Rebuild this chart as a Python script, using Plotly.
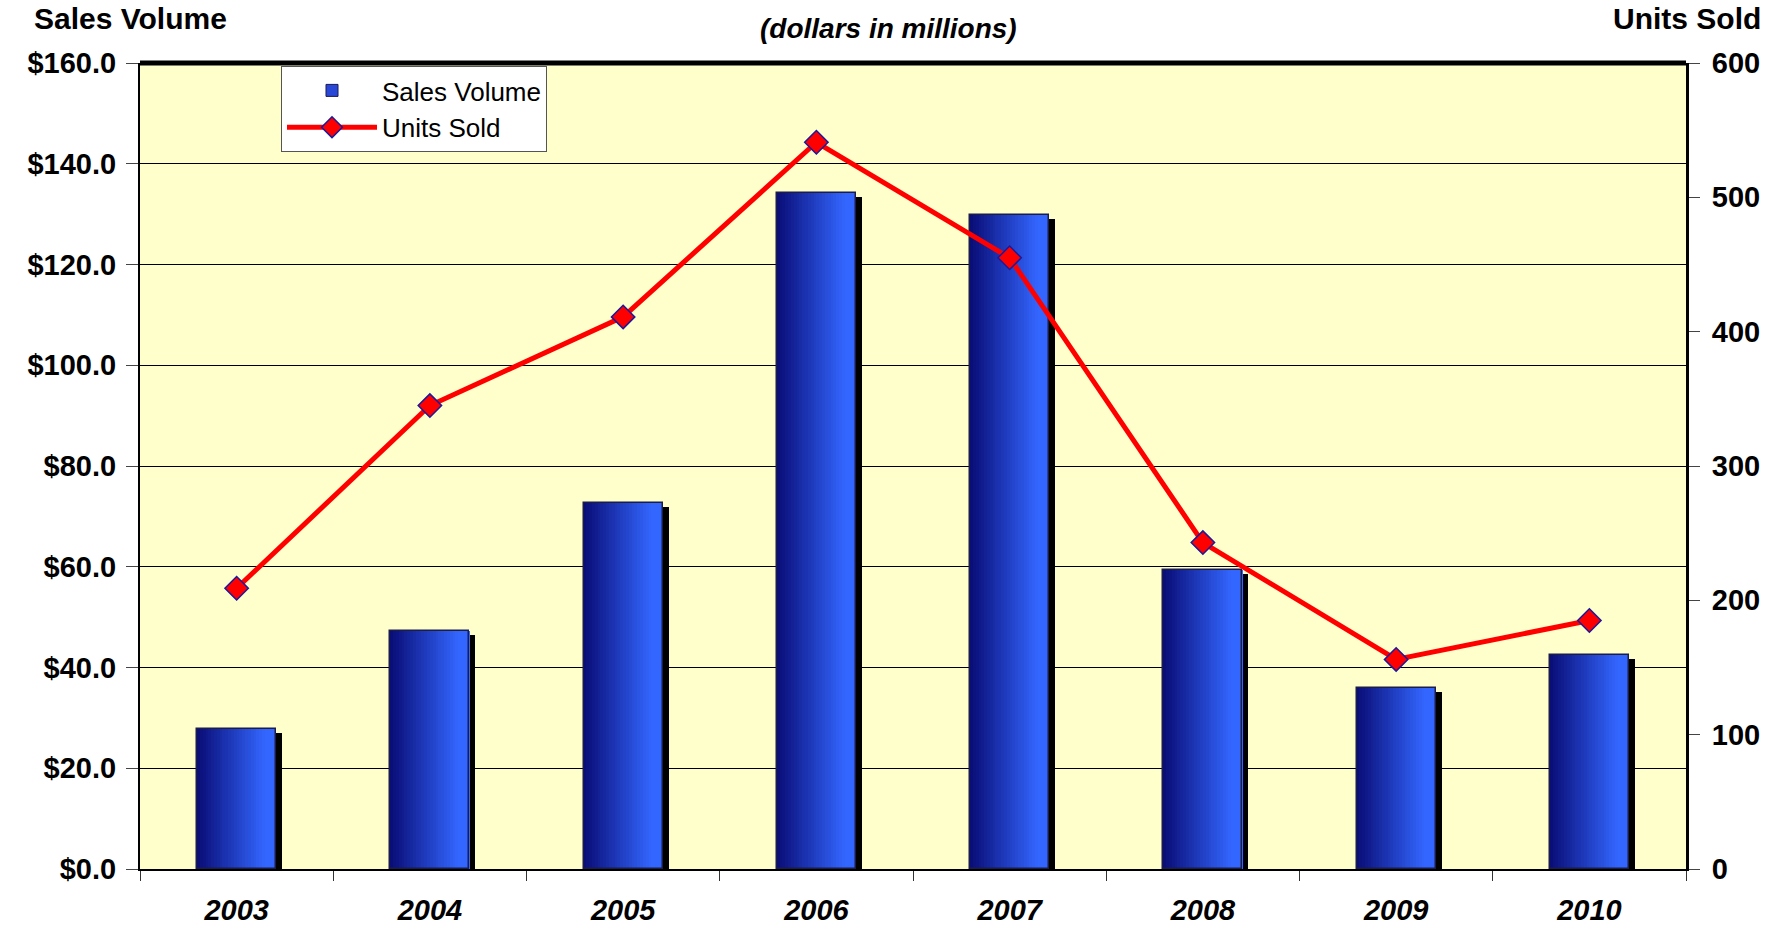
import plotly.graph_objects as go

# Annual figures
years = ["2003", "2004", "2005", "2006", "2007", "2008", "2009", "2010"]
sales_volume = [27.7, 47.2, 72.7, 134.2, 129.9, 59.4, 35.9, 42.5]   # $ millions
units_sold = [209, 345, 411, 541, 455, 243, 156, 185]

sales_ticks = [0, 20, 40, 60, 80, 100, 120, 140, 160]
sales_tick_text = [f"${v:.1f}" for v in sales_ticks]
units_ticks = [0, 100, 200, 300, 400, 500, 600]

FONT = "Liberation Sans, Arial, sans-serif"
W, H = 1780, 930
M_L, M_R, M_T, M_B = 140, 94, 63, 61
PW, PH = W - M_L - M_R, H - M_T - M_B

BAR_W = 0.41                    # bar width in category units
N_SLICES = 28                   # slices used for the horizontal gradient
C_DARK = (10, 14, 120)
C_LIGHT = (51, 102, 255)
SHADOW_DX = 6 / (PW / len(years))        # shadow shift, category units
SHADOW_DY = 4 * 160 / PH                 # shadow drop, $ units

fig = go.Figure()

# drop shadow behind each bar
fig.add_trace(go.Bar(
    x=years, y=[v - SHADOW_DY for v in sales_volume],
    width=BAR_W, offset=-BAR_W / 2 + SHADOW_DX,
    marker=dict(color="black", line=dict(width=0)),
    showlegend=False, hoverinfo="skip",
))

# legend entry for the bars (sits under the gradient slices)
fig.add_trace(go.Bar(
    x=years, y=sales_volume, name="Sales Volume",
    width=BAR_W, offset=-BAR_W / 2,
    marker=dict(color="#2a48d8", line=dict(color="#1a1a50", width=1)),
))

# gradient fill: dark navy on the left to bright blue on the right
sw = BAR_W / N_SLICES
for i in range(N_SLICES):
    t = i / (N_SLICES - 1)
    r, g, b = (round(C_DARK[k] + (C_LIGHT[k] - C_DARK[k]) * min(1.0, t * 1.15)) for k in range(3))
    fig.add_trace(go.Bar(
        x=years, y=sales_volume,
        width=sw * 1.08, offset=-BAR_W / 2 + i * sw,
        marker=dict(color=f"rgb({r},{g},{b})", line=dict(width=0)),
        showlegend=False, hoverinfo="skip",
    ))

# thin outline around each bar
fig.add_trace(go.Bar(
    x=years, y=sales_volume,
    width=BAR_W, offset=-BAR_W / 2,
    marker=dict(color="rgba(0,0,0,0)", line=dict(color="#1c1c48", width=1.5)),
    showlegend=False, hoverinfo="skip",
))

# units sold on the secondary axis
fig.add_trace(go.Scatter(
    x=years, y=units_sold, name="Units Sold", yaxis="y2",
    mode="lines+markers",
    line=dict(color="#ff0000", width=5),
    marker=dict(symbol="diamond", size=18, color="#ff0000",
                line=dict(color="#1a1a9a", width=1.5)),
))

bold = dict(family=FONT, size=29, color="black", weight="bold")

fig.update_layout(
    width=W, height=H,
    margin=dict(l=M_L, r=M_R, t=M_T, b=M_B, autoexpand=False),
    paper_bgcolor="white",
    plot_bgcolor="#ffffcc",
    barmode="overlay",
    bargap=0,
    font=dict(family=FONT, color="black"),
    xaxis=dict(
        type="category", automargin=False,
        showline=True, linecolor="black", linewidth=2,
        ticks="outside", tickson="boundaries", ticklen=10, tickcolor="#333", tickwidth=1,
        tickfont=dict(family=FONT, size=29, color="black", weight="bold", style="italic"),
        ticklabelstandoff=14,
        showgrid=False,
    ),
    yaxis=dict(
        range=[0, 160], tickvals=sales_ticks, ticktext=sales_tick_text, automargin=False,
        showline=True, linecolor="black", linewidth=2,
        ticks="outside", ticklen=12, tickcolor="#444", tickwidth=1,
        tickfont=bold, ticklabelstandoff=4,
        showgrid=True, gridcolor="black", gridwidth=1,
        zeroline=False,
    ),
    yaxis2=dict(
        range=[0, 600], tickvals=units_ticks, overlaying="y", side="right", automargin=False,
        showline=True, linecolor="black", linewidth=3,
        ticks="outside", ticklen=11, tickcolor="#444", tickwidth=1,
        tickfont=bold, ticklabelstandoff=6,
        showgrid=False, zeroline=False,
    ),
    legend=dict(
        x=(281 - M_L) / PW, y=(H - M_B - 66) / PH, xanchor="left", yanchor="top",
        bgcolor="white", bordercolor="#555", borderwidth=1,
        font=dict(family=FONT, size=26, color="black"),
        traceorder="normal", itemwidth=90,
    ),
    shapes=[dict(type="line", xref="paper", yref="paper", x0=0, x1=1, y0=1, y1=1,
                 line=dict(color="black", width=5))],
    annotations=[
        dict(text="(dollars in millions)", xref="paper", yref="paper",
             x=(888 - M_L) / PW, y=(H - M_B - 29) / PH, xanchor="center", yanchor="middle",
             showarrow=False,
             font=dict(family=FONT, size=28, color="black", weight="bold", style="italic")),
        dict(text="Sales Volume", xref="paper", yref="paper",
             x=(32 - M_L) / PW, y=(H - M_B - 19) / PH, xanchor="left", yanchor="middle",
             showarrow=False, font=dict(bold, size=30)),
        dict(text="Units Sold", xref="paper", yref="paper",
             x=(1763 - M_L) / PW, y=(H - M_B - 19) / PH, xanchor="right", yanchor="middle",
             showarrow=False, font=dict(bold, size=30)),
    ],
)

fig.write_html("out.html")
